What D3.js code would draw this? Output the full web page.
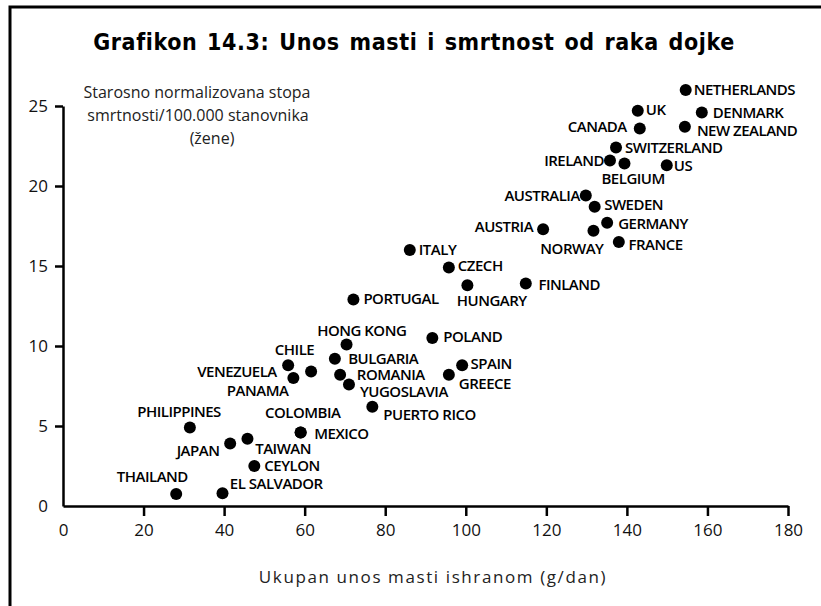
<!DOCTYPE html>
<html>
<head>
<meta charset="utf-8">
<script src="https://cdn.jsdelivr.net/npm/d3@7"></script>
<style>
  html, body { margin: 0; padding: 0; background: #fff; }
  svg { display: block; }
</style>
</head>
<body>
<svg id="chart" width="821" height="606"></svg>
<script>
// Countries, dietary fat intake (g/day) and age-adjusted breast cancer mortality (per 100,000 women)
const countries = [
  "NETHERLANDS", "UK", "DENMARK", "CANADA", "NEW ZEALAND", "SWITZERLAND", "IRELAND", "BELGIUM",
  "US", "AUSTRALIA", "SWEDEN", "GERMANY", "AUSTRIA", "NORWAY", "FRANCE", "ITALY", "CZECH",
  "HUNGARY", "FINLAND", "PORTUGAL", "HONG KONG", "POLAND", "BULGARIA", "SPAIN", "CHILE",
  "VENEZUELA", "ROMANIA", "GREECE", "PANAMA", "YUGOSLAVIA", "PUERTO RICO", "PHILIPPINES",
  "JAPAN", "TAIWAN", "MEXICO", "COLOMBIA", "CEYLON", "THAILAND", "EL SALVADOR"
];
const fatIntake = [
  154.6, 142.7, 158.6, 143.2, 154.4, 137.3, 135.8, 139.4,
  149.9, 129.8, 132.0, 135.1, 119.2, 131.7, 138.0, 86.1, 95.8,
  100.4, 114.9, 72.1, 70.4, 91.7, 67.5, 99.1, 55.9,
  61.6, 68.8, 95.8, 57.2, 71.0, 76.8, 31.5,
  41.5, 45.8, 59.0, 59.0, 47.5, 28.1, 39.6
];
const mortality = [
  26.0, 24.7, 24.6, 23.6, 23.7, 22.4, 21.6, 21.4,
  21.3, 19.4, 18.7, 17.7, 17.3, 17.2, 16.5, 16.0, 14.9,
  13.8, 13.9, 12.9, 10.1, 10.5, 9.2, 8.8, 8.8,
  8.4, 8.2, 8.2, 8.0, 7.6, 6.2, 4.9,
  3.9, 4.2, 4.6, 4.6, 2.5, 0.75, 0.8
];
const xTicks = [0, 20, 40, 60, 80, 100, 120, 140, 160, 180];
const yTicks = [0, 5, 10, 15, 20, 25];

const titleText = "Grafikon 14.3: Unos masti i smrtnost od raka dojke";
const xTitle = "Ukupan unos masti ishranom (g/dan)";
const yTitleLines = ["Starosno normalizovana stopa", "smrtnosti/100.000 stanovnika", "(žene)"];

// Label placement next to each dot: [anchor, dx, dy] in pixels
const labelPlacement = {
  "NETHERLANDS": ["start", 8, 0], "UK": ["start", 8, -1], "DENMARK": ["start", 11, 0.5],
  "CANADA": ["end", -13, -2], "NEW ZEALAND": ["start", 12, 4.4], "SWITZERLAND": ["start", 9, 0],
  "IRELAND": ["end", -6, 0], "BELGIUM": ["start", -23, 15.3], "US": ["start", 7, 1],
  "AUSTRALIA": ["end", -6, 0], "SWEDEN": ["start", 9.5, -1.7], "GERMANY": ["start", 11, 1.3],
  "AUSTRIA": ["end", -10, -2.3], "NORWAY": ["end", 10, 17.7], "FRANCE": ["start", 9.7, 2.7],
  "ITALY": ["start", 9, 0], "CZECH": ["start", 9, -2.3], "HUNGARY": ["start", -10.6, 15.3],
  "FINLAND": ["start", 12.6, 1], "PORTUGAL": ["start", 10, -1], "HONG KONG": ["start", -29.4, -14],
  "POLAND": ["start", 11, -1], "BULGARIA": ["start", 13.3, 0], "SPAIN": ["start", 8.4, -1.7],
  "CHILE": ["start", -13.3, -15.7], "VENEZUELA": ["end", -34.3, 0], "ROMANIA": ["start", 16.7, 0],
  "GREECE": ["start", 10, 9], "PANAMA": ["end", -5, 12.7], "YUGOSLAVIA": ["start", 11, 7.3],
  "PUERTO RICO": ["start", 11, 7.6], "PHILIPPINES": ["start", -52.7, -15.6], "JAPAN": ["end", -10.7, 6.7],
  "TAIWAN": ["start", 7.7, 10], "MEXICO": ["start", 13.6, 1.6], "COLOMBIA": ["start", -35.7, -19.4],
  "CEYLON": ["start", 10, 0], "THAILAND": ["end", 11.7, -17.3], "EL SALVADOR": ["start", 7.3, -9.3]
};

const svg = d3.select("#chart");
const W = 821, H = 606;

// Plot area
const plot = { left: 63, right: 788, top: 106, bottom: 506 };
const x = d3.scaleLinear().domain([0, 180]).range([plot.left, plot.right]);
const y = d3.scaleLinear().domain([0, 25]).range([plot.bottom, plot.top]);

// Outer frame (top and left edges)
svg.append("path")
  .attr("d", `M10,${H} L10,7 L${W},7`)
  .attr("fill", "none").attr("stroke", "#000").attr("stroke-width", 3);

// Title
svg.append("text")
  .attr("x", 414).attr("y", 42)
  .attr("dy", "0.35em")
  .attr("text-anchor", "middle")
  .style("font-family", "'DejaVu Sans Condensed', 'DejaVu Sans', sans-serif")
  .style("font-stretch", "condensed")
  .style("font-weight", "bold")
  .style("font-size", "23px")
  .style("letter-spacing", "0.6px")
  .style("word-spacing", "2px")
  .text(titleText);

// Axes
const axisFont = "'Open Sans', sans-serif";
const xAxis = d3.axisBottom(x).tickValues(xTicks).tickSize(10).tickPadding(8).tickSizeOuter(0);
const yAxis = d3.axisLeft(y).tickValues(yTicks).tickSize(8).tickPadding(8).tickSizeOuter(0);

const gx = svg.append("g").attr("transform", `translate(0,${plot.bottom})`).call(xAxis);
const gy = svg.append("g").attr("transform", `translate(${plot.left},0)`).call(yAxis);

[gx, gy].forEach(g => {
  g.select(".domain").attr("stroke", "#000").attr("stroke-width", 2.5);
  g.selectAll(".tick line").attr("stroke", "#000").attr("stroke-width", 2.5)
    .attr("opacity", d => d === 0 ? 0 : 1);
  g.selectAll(".tick text")
    .style("font-family", axisFont).style("font-size", "17px").attr("fill", "#111");
});
gy.selectAll(".tick text").attr("x", -15);

// X axis title
svg.append("text")
  .attr("x", 433).attr("y", 583)
  .attr("text-anchor", "middle")
  .style("font-family", axisFont).style("font-size", "17px")
  .style("letter-spacing", "1.6px")
  .attr("fill", "#222")
  .text(xTitle);

// Y axis title (three lines)
const yTitlePos = [[197, 92], [198, 115], [212, 138]];
svg.append("g").selectAll("text").data(yTitleLines).join("text")
  .attr("x", (d, i) => yTitlePos[i][0])
  .attr("y", (d, i) => yTitlePos[i][1])
  .attr("dy", "0.35em")
  .attr("text-anchor", "middle")
  .style("font-family", axisFont).style("font-size", "16px")
  .attr("fill", "#222")
  .text(d => d);

// Points
const data = countries.map((c, i) => ({ name: c, fat: fatIntake[i], rate: mortality[i] }));

svg.append("g").selectAll("circle").data(data).join("circle")
  .attr("cx", d => x(d.fat))
  .attr("cy", d => y(d.rate))
  .attr("r", 6)
  .attr("fill", "#000");

svg.append("g").selectAll("text").data(data).join("text")
  .attr("x", d => x(d.fat) + labelPlacement[d.name][1])
  .attr("y", d => y(d.rate) + labelPlacement[d.name][2])
  .attr("dy", "0.35em")
  .attr("text-anchor", d => labelPlacement[d.name][0])
  .style("font-family", axisFont)
  .style("font-weight", 600)
  .style("font-size", "15px")
  .style("letter-spacing", "-0.5px")
  .attr("fill", "#000")
  .text(d => d.name);
</script>
</body>
</html>
